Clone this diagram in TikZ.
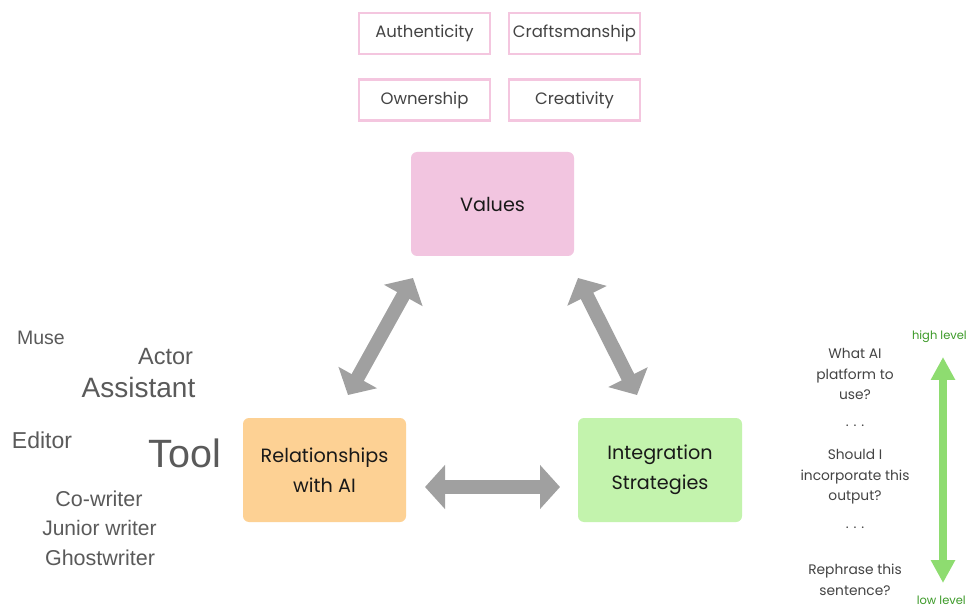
\documentclass[tikz,border=0pt]{standalone}
\usepackage{fontspec}
\setmainfont{Poppins}
\newfontfamily\cloudfont{Liberation Sans}
\usetikzlibrary{arrows.meta}
\definecolor{pinkb}{HTML}{F4C6DF}
\definecolor{pinkf}{HTML}{F2C5E0}
\definecolor{orangef}{HTML}{FDD194}
\definecolor{greenf}{HTML}{C3F3AD}
\definecolor{arrowgray}{HTML}{A0A0A0}
\definecolor{lgreen}{HTML}{8EDC70}
\definecolor{dgreen}{HTML}{3C9A28}
\definecolor{txtgray}{HTML}{444444}
\definecolor{cloudgray}{HTML}{5A5A5A}
\begin{document}
\begin{tikzpicture}[x=1pt,y=-1pt,
  valuebox/.style={draw=pinkb, line width=2.5pt, minimum width=131pt, minimum height=41pt, inner sep=0pt, text=txtgray, font=\fontsize{16.5}{19}\selectfont},
  mainbox/.style={rounded corners=6pt, minimum width=163pt, minimum height=104pt, inner sep=0pt, align=center, text=black!90, font=\fontsize{19.2}{29.5}\selectfont},
  bigarrow/.style={draw=arrowgray, line width=14pt, {Triangle[width=43pt,length=20pt]}-{Triangle[width=43pt,length=20pt]}},
  levelarrow/.style={draw=lgreen, line width=8pt, {Triangle[width=23pt,length=23pt]}-{Triangle[width=23pt,length=23pt]}},
  question/.style={align=center, text=txtgray, font=\fontsize{13.8}{20.5}\selectfont},
  leveltext/.style={anchor=east, inner sep=0pt, text=dgreen, font=\fontsize{11.5}{13}\selectfont},
  cloud/.style={anchor=base, text=cloudgray, inner sep=0pt}
]
\useasboundingbox (0,0) rectangle (969,609);
\fill[white] (0,0) rectangle (969,609);

% value keywords
\node[valuebox] (auth) at (424.5,33.5) {Authenticity};
\node[valuebox] (craft) at (574.5,33.5) {Craftsmanship};
\node[valuebox] (own) at (424.5,100) {Ownership};
\node[valuebox] (crea) at (574.5,100) {Creativity};

% main boxes
\node[mainbox, fill=pinkf] (values) at (492.5,204) {Values};
\node[mainbox, fill=orangef] (rel) at (324.5,470) {Relationships\\with AI};
\node[mainbox, fill=greenf, minimum width=164pt] (integ) at (660,470) {Integration\\Strategies};

% arrows
\coordinate (lA) at (348,395);
\coordinate (lB) at (413,278);
\coordinate (rA) at (578,278);
\coordinate (rB) at (637,395);
\coordinate (hA) at (425,487);
\coordinate (hB) at (560,487);
\draw[bigarrow] (lA) -- (lB);
\draw[bigarrow] (rA) -- (rB);
\draw[bigarrow] (hA) -- (hB);

% word cloud
\node[cloud, font=\cloudfont\fontsize{19.5}{22}\selectfont] (muse) at (41,345) {Muse};
\node[cloud, font=\cloudfont\fontsize{23.5}{26}\selectfont] (actor) at (165.5,365) {Actor};
\node[cloud, font=\cloudfont\fontsize{28}{32}\selectfont] (assist) at (138.5,398) {Assistant};
\node[cloud, font=\cloudfont\fontsize{23}{26}\selectfont] (editor) at (42,448) {Editor};
\node[cloud, font=\cloudfont\fontsize{39.5}{42}\selectfont] (tool) at (185,467) {Tool};
\node[cloud, font=\cloudfont\fontsize{21.5}{24}\selectfont] (cowriter) at (99,506) {Co-writer};
\node[cloud, font=\cloudfont\fontsize{21}{24}\selectfont] (junior) at (99.5,535) {Junior writer};
\node[cloud, font=\cloudfont\fontsize{21.5}{24}\selectfont] (ghost) at (100,565) {Ghostwriter};

% levels
\node[question] (q1) at (855,374) {What AI\\platform to\\use?};
\node[question] (d1) at (855,426) {. . .};
\node[question] (q2) at (855,477) {Should I\\incorporate this\\output?};
\node[question] (d2) at (855,528) {. . .};
\node[question] (q3) at (855,580) {Rephrase this\\sentence?};
\coordinate (gA) at (943,357);
\coordinate (gB) at (943,583);
\draw[levelarrow] (gA) -- (gB);
\node[leveltext] (high) at (967,337) {high level};
\node[leveltext] (low) at (966,600) {low level};
\end{tikzpicture}
\end{document}
